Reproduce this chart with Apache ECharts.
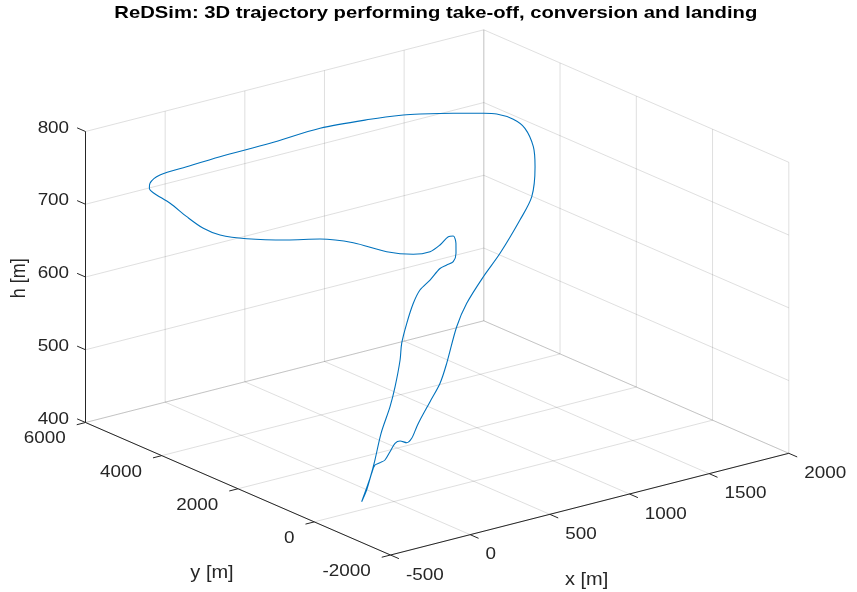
<!DOCTYPE html>
<html><head><meta charset="utf-8">
<script src="https://cdn.jsdelivr.net/npm/echarts@6/dist/echarts.min.js"></script>
<style>html,body{margin:0;padding:0;background:#fff}#c{width:857px;height:592px}</style>
</head><body><div id="c"></div>
<script>
// ---- data ----
const titleText = 'ReDSim: 3D trajectory performing take-off, conversion and landing';
const xTicks = [-500, 0, 500, 1000, 1500, 2000];
const yTicks = [-2000, 0, 2000, 4000, 6000];
const hTicks = [400, 500, 600, 700, 800];
const xName = 'x [m]', yName = 'y [m]', hName = 'h [m]';
const trajX = [-394,-334,-255,-219,-205,-187,-138,-88,-67,-69,-36,30,84,191,292,394,568,675,811,944,1127,1214,1341,1450,1531,1514,1444,1364,1226,1081,1006,842,589,288,14,-156,-284,-359,-387,-392,-382,-385,-372,-314,-176,50,243,394,497,618,735,848,970,1009,973,909,848,812,780,689,611,530,415,312,240,123,27,-105,-240,-317,-370,-407];
const trajY = [-800,-680,-481,-419,-491,-547,-474,-397,-441,-626,-617,-474,-334,-150,10,262,727,911,1042,1161,1404,1457,1902,2402,2961,3196,3337,3355,3564,3832,3957,4144,4398,4452,4621,4785,4950,4898,4797,4674,4275,3825,3444,3248,3125,3019,2955,2712,2267,2076,2123,2336,2627,2660,2439,2170,1987,2009,2051,1932,1870,1706,1397,1100,841,483,214,-102,-505,-710,-812,-855];
const trajH = [440,450,464,472,476,480,487,494,497,499,503,512,515,530,546,562,592,614,640,662,692,718,742,752,760,768,776,781,784,785,785,784,780,775,768,760,752,746,743,740,734,726,718,710,700,688,680,672,664,658,654,652,650,648,645,641,637,634,630,622,614,604,590,575,562,540,524,502,482,468,455,442];

// ---- view (screen-plane direction of a full traverse of each axis) ----
const X_LIM = [xTicks[0], xTicks[xTicks.length-1]];
const Y_LIM = [yTicks[0], yTicks[yTicks.length-1]];
const H_LIM = [hTicks[0], hTicks[hTicks.length-1]];
const VX = [398.3, 101.7], VY = [-305, 132.5], VH = [0, 291];
function proj(x, y, h) {
  const nx = (x - X_LIM[0]) / (X_LIM[1] - X_LIM[0]);
  const ny = (y - Y_LIM[0]) / (Y_LIM[1] - Y_LIM[0]);
  const nh = (h - H_LIM[0]) / (H_LIM[1] - H_LIM[0]);
  return [nx*VX[0] + ny*VY[0] + nh*VH[0], nx*VX[1] + ny*VY[1] + nh*VH[1]];
}
const U_MIN = VY[0], U_MAX = VX[0], V_MAX = VX[1] + VY[1] + VH[1];

const FONT = '"Liberation Sans", Arial, Helvetica, sans-serif';
const TXT = '#262626';
const SX = 1.11;

function renderFrame(params, api) {
  const P = (x, y, h) => api.coord(proj(x, y, h));
  const ch = [];
  const grid = { stroke: 'rgba(38,38,38,0.15)', lineWidth: 1, fill: null };
  const axis = { stroke: '#262626', lineWidth: 1, fill: null };
  const seg = (a, b, st) => ch.push({ type: 'line', shape: { x1: a[0], y1: a[1], x2: b[0], y2: b[1] }, style: st, silent: true });
  const [x0, x1] = X_LIM, [y0, y1] = Y_LIM, [h0, h1] = H_LIM;
  // floor
  xTicks.forEach(x => seg(P(x, y0, h0), P(x, y1, h0), grid));
  yTicks.forEach(y => seg(P(x0, y, h0), P(x1, y, h0), grid));
  // back wall y = max
  xTicks.forEach(x => seg(P(x, y1, h0), P(x, y1, h1), grid));
  hTicks.forEach(h => seg(P(x0, y1, h), P(x1, y1, h), grid));
  // back wall x = max
  yTicks.forEach(y => seg(P(x1, y, h0), P(x1, y, h1), grid));
  hTicks.forEach(h => seg(P(x1, y0, h), P(x1, y1, h), grid));
  // axes
  seg(P(x0, y1, h0), P(x0, y1, h1), axis);
  seg(P(x0, y0, h0), P(x0, y1, h0), axis);
  seg(P(x0, y0, h0), P(x1, y0, h0), axis);
  const TKY = 220, TKX = 55;
  const text = (pt, str, align, size, extra) => ch.push(Object.assign({
    type: 'text', x: pt[0], y: pt[1], scaleX: SX, silent: true,
    style: { x: 0, y: 0, text: str, align: align, verticalAlign: 'middle', fill: TXT, font: size + 'px ' + FONT }
  }, extra || {}));
  xTicks.forEach(x => {
    const e = P(x, y0 - TKY, h0);
    seg(P(x, y0, h0), e, axis);
    text([e[0] + 7, e[1] + 16.5], String(x), 'left', 17);
  });
  yTicks.forEach(y => {
    const e = P(x0 - TKX, y, h0);
    seg(P(x0, y, h0), e, axis);
    text([e[0] - 11, e[1] + 14], String(y), 'right', 17);
  });
  hTicks.forEach(h => {
    const e = P(x0, y1 + TKY, h);
    seg(P(x0, y1, h), e, axis);
    text([e[0] - 8, e[1]], String(h), 'right', 17);
  });
  // axis names
  const xm = P((x0 + x1) / 2, y0, h0);
  text([xm[0] - 3, xm[1] + 76], xName, 'center', 18);
  const ym = P(x0, (y0 + y1) / 2, h0);
  text([ym[0] - 26, ym[1] + 84], yName, 'center', 18);
  const hm = P(x0, y1, (h0 + h1) / 2);
  ch.push({ type: 'text', x: hm[0] - 66.5, y: hm[1] + 1.3, rotation: Math.PI / 2, scaleY: SX, silent: true,
    style: { x: 0, y: 0, text: hName, align: 'center', verticalAlign: 'middle', fill: TXT, font: '18px ' + FONT } });
  return { type: 'group', children: ch };
}

const chart = echarts.init(document.getElementById('c'), null, { renderer: 'canvas' });
chart.setOption({
  animation: false,
  backgroundColor: '#ffffff',
  graphic: [{
    type: 'text', x: 435.8, y: 13.3, scaleX: 1.19, silent: true,
    style: { x: 0, y: 0, text: titleText, align: 'center', verticalAlign: 'middle', fill: '#000', font: 'bold 17px ' + FONT }
  }],
  grid: { left: 85.5, top: 29.8, width: U_MAX - U_MIN, height: V_MAX, containLabel: false },
  xAxis: { type: 'value', min: U_MIN, max: U_MAX, show: false },
  yAxis: { type: 'value', min: 0, max: V_MAX, show: false },
  series: [
    { type: 'custom', coordinateSystem: 'cartesian2d', data: [[0, 0]], renderItem: renderFrame, clip: false, z: 1, silent: true },
    { type: 'line', data: trajX.map((x, i) => proj(x, trajY[i], trajH[i])), showSymbol: false, smooth: 0.3,
      lineStyle: { color: '#0072BD', width: 1.1 }, z: 2, silent: true }
  ]
});
</script>
</body></html>
